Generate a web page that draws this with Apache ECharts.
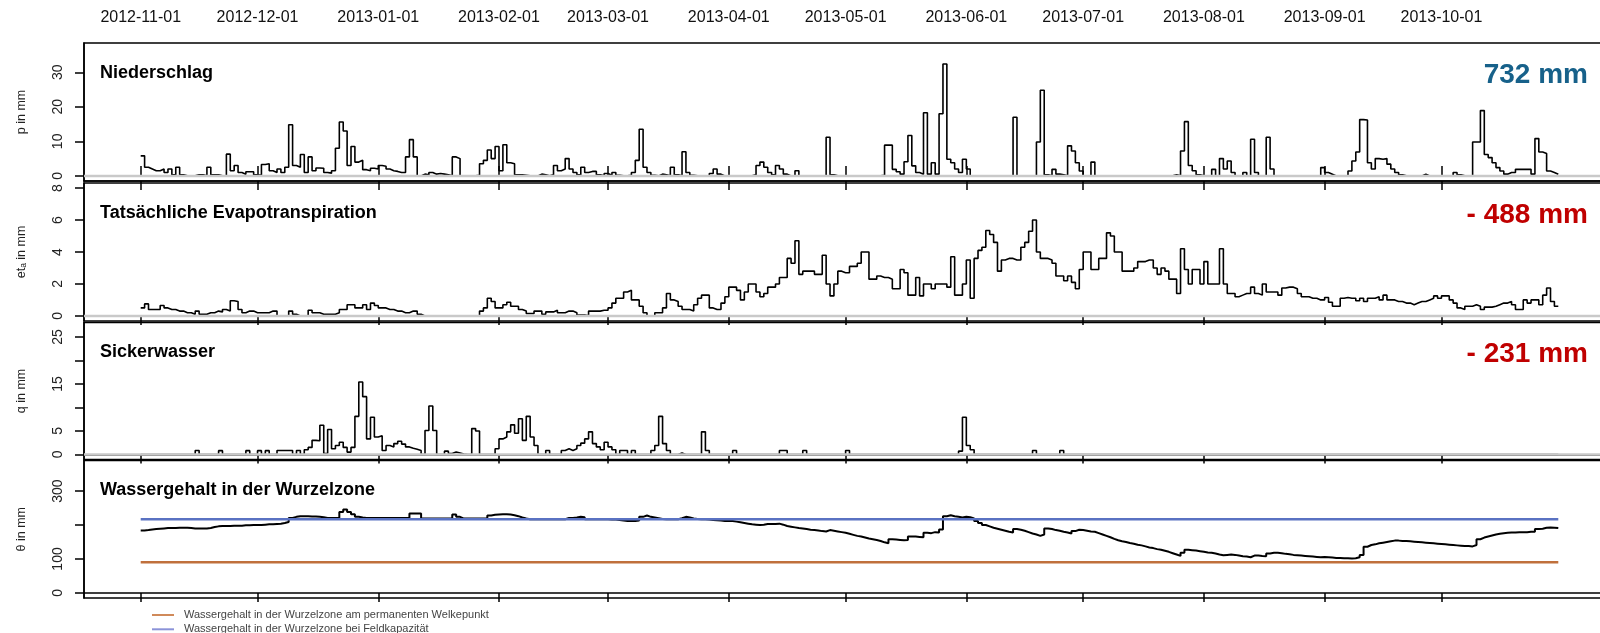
<!DOCTYPE html>
<html><head><meta charset="utf-8">
<script src="https://cdn.jsdelivr.net/npm/echarts@6/dist/echarts.min.js"></script>
<style>html,body{margin:0;padding:0;background:#fff}#c{width:1600px;height:633px}</style>
</head><body><div id="c"></div>
<script>
// ---- data (daily values 2012-11-01 .. 2013-10-31, one line per month) ----
const startDate = '2012-11-01';
const monthTicks = ['2012-11-01','2012-12-01','2013-01-01','2013-02-01','2013-03-01','2013-04-01',
  '2013-05-01','2013-06-01','2013-07-01','2013-08-01','2013-09-01','2013-10-01'];

const precip = [
 5.8,2.5,2.0,1.5,1.5,2.0,1.0,2.0,0.3,2.5, 0.3,0,0,0,0.3,0.3,0,2.5,0.3,0.3, 0,0,6.3,1.5,3.0,1.0,0.5,1.2,1.2,0.3,
 0.2,3.3,3.5,1.5,1.0,2.0,1.0,2.5,14.8,3.0, 2.5,6.2,1.0,5.5,1.5,2.3,2.2,1.0,0.8,1.5, 8.0,15.6,13.0,3.0,8.5,4.0,4.5,1.8,1.5,2.2, 2.0,
 3.0,2.8,2.0,1.5,1.3,1.0,1.0,5.5,10.5,5.5, 0,0.5,0.3,1.0,0.5,0.7,0.5,0.3,0,5.5, 5.0,0,0,0,0,0.2,3.5,4.5,7.5,5.0, 8.5,
 1.5,9.0,3.8,3.5,0.3,0.3,0.2,0,0,0, 0.5,0.3,0,0.3,3.0,1.5,2.0,5.0,2.0,1.0, 0.3,2.5,1.0,1.3,1.3,0.3,0,0.7,
 0.2,1.0,0.2,0,0,0.2,1.0,4.5,13.5,2.5, 1.0,0.2,0,0.5,0.3,0,2.5,0.3,0,7.0, 1.0,0.2,0,0,0,0,0.7,2.0,0.5,0, 0,
 0,0,0,0,0,0,0.3,3.0,4.0,2.5, 1.0,0.3,3.0,2.0,0.5,0,0,1.5,0,0, 0,0,0,0,0,11.2,0.3,0,0,0,
 0,0,0,0,0,0,0,0,0,0.2, 8.9,8.9,1.9,1.2,0.5,4.1,11.7,2.9,1.0,0.5, 18.3,0.5,3.8,0.5,18.0,32.4,4.8,3.8,2.0,1.0, 4.8,
 2.0,0,0,0,0,0,0,0,0,0, 0,0,17.0,0,0,0,0,0,9.8,24.8, 0.3,0,1.9,0.5,0.3,0,8.7,7.2,3.8,1.4,
 0,0,4.0,0,0,0,0,0,0,0, 0,0,0,0,0,0,0,0,0,0, 0,0,0,0.3,0,7.2,15.7,3.0,1.5,0.3, 0,
 0,0,1.9,0,5.0,2.0,4.3,1.0,0,0, 1.0,0,10.6,1.0,0,0,11.2,2.0,0,0, 0,0,0,0,0,0,0,0,0,0, 2.4,
 1.0,0.5,0,0,0,0,1.4,4.3,6.9,16.3, 16.2,3.8,2.0,5.0,4.8,5.0,3.4,2.0,1.0,0.3, 0,0,0,0,0,0.5,0,0,0,0,
 0,0,0,1.0,0.3,0,0,0,9.8,9.8, 18.9,6.2,5.3,3.8,2.4,1.4,0.5,1.0,1.0,1.9, 1.9,1.9,1.9,0.5,10.8,6.9,6.5,1.4,1.0,0.5, 0.5
];

const evapo = [
 0.5,0.75,0.4,0.4,0.4,0.65,0.5,0.4,0.4,0.3, 0.3,0.2,0.2,0.1,0.3,0.1,0.1,0.2,0.2,0.3, 0.25,0.4,0.3,0.95,0.9,0.4,0.2,0.3,0.3,0.2,
 0.2,0.2,0.2,0.3,0.3,0,0,0,0.3,0.1, 0,0,0,0.35,0.2,0.2,0.1,0.1,0.1,0.1, 0.2,0.4,0.4,0.7,0.7,0.5,0.5,0.7,0.4,0.8, 0.65,
 0.5,0.5,0.4,0.4,0.3,0.3,0.2,0.2,0.3,0.3, 0.1,0,0,0,0,0,0,0,0,0, 0,0,0,0,0,0,0.3,0.5,1.1,0.9, 0.5,
 0.5,0.7,0.85,0.6,0.6,0.4,0.3,0.15,0.15,0.3, 0.3,0.1,0.25,0.25,0.35,0.2,0.2,0.3,0.3,0.2, 0.05,0.05,0,0.3,0.3,0.3,0.35,0.35,
 0.5,0.8,1.1,1.1,1.5,1.6,1.0,1.0,0.6,0.2, 0,0,0.2,0.2,0.5,1.4,1.0,0.9,0.6,0.4, 0.4,0.3,0.7,1.1,1.3,1.3,0.5,0.4,0.4,0.8, 1.2,
 1.8,1.8,1.6,1.0,1.5,2.0,2.0,1.5,1.2,1.4, 1.8,1.8,2.0,2.4,2.4,3.6,3.3,4.7,2.6,2.8, 2.8,2.8,2.6,2.6,3.8,2.0,1.25,2.0,2.8,2.7,
 2.7,3.1,3.1,3.3,4.0,4.0,2.3,2.3,2.5,2.4, 2.4,2.3,1.7,1.7,2.9,2.7,1.3,1.3,2.4,1.25, 2.0,2.0,1.7,2.0,2.0,2.0,1.8,3.7,1.3,1.3, 2.0,
 3.5,1.1,3.6,4.1,4.3,5.35,5.1,4.6,2.8,3.5, 3.6,3.6,3.5,3.5,4.3,4.6,5.3,6.0,4.0,3.6, 3.6,3.5,3.3,2.5,2.5,2.2,2.5,2.1,1.7,2.9,
 4.0,4.0,2.9,2.9,3.6,3.6,5.2,5.0,4.0,4.0, 2.8,2.8,2.8,3.0,3.4,3.4,3.5,3.5,3.0,2.6, 3.0,2.8,2.3,2.3,1.4,4.2,2.9,2.0,2.9,2.9, 2.0,
 3.4,2.0,2.0,2.0,4.2,2.0,1.4,1.4,1.2,1.3, 1.4,1.4,1.8,1.4,1.3,2.0,1.5,1.5,1.5,1.3, 1.75,1.8,1.8,1.7,1.4,1.2,1.2,1.1,1.1,1.0, 1.0,
 1.15,0.85,0.6,0.6,1.1,1.15,1.1,1.1,0.95,1.1, 0.9,1.1,1.1,1.2,1.0,1.3,1.0,1.0,0.9,0.9, 0.8,0.8,0.7,0.8,0.9,0.9,1.0,1.1,1.25,1.1,
 1.25,1.25,1.0,0.8,0.5,0.4,0.6,0.6,0.7,0.6, 0.4,0.55,0.55,0.6,0.7,0.8,0.8,0.9,0.7,0.4, 0.4,1.0,0.8,1.0,1.0,0.7,1.3,1.75,0.9,0.6, 0.6
];

const seepage = [
 0,0,0,0,0,0,0,0,0,0, 0,0,0,0,0.85,0,0,0,0,0, 0.8,0,0,0,0,0,0,0.8,0,0,
 0.8,0,0.8,0,0,0.85,0.85,0.85,0.85,0, 0.85,0,1.0,1.5,3.0,2.9,6.2,0.2,5.3,1.2, 1.9,2.6,1.5,0.5,1.5,8.1,15.4,12.3,3.3,7.9, 3.7,
 4.0,0.85,1.9,1.6,2.3,2.8,2.2,1.6,1.3,1.1, 0.85,0,5.1,10.3,5.1,0,0,0.7,0.2,0.5, 0.3,0.1,0,0,5.5,5.0,0,0,0,0, 1.2,
 3.3,3.7,4.8,6.3,4.5,7.6,3.0,8.1,3.7,1.9, 0,0,0.85,0,0,0,0.85,1.2,0.85,1.2, 1.9,2.4,3.3,4.8,2.3,1.6,1.0,2.6,
 1.6,1.0,0,0.85,0.85,0,0.85,0,0,0, 0,0.85,1.9,8.1,2.3,0.85,0,0,0.3,0, 0,0,0,0,4.8,0.85,0,0,0,0, 0,
 0,0.85,0,0,0,0,0,0,0,0, 0,0,0,0.85,0.85,0,0,0,0,0.85, 0,0,0,0,0,0,0,0,0,0,
 0.85,0,0,0,0,0,0,0,0,0, 0,0,0,0,0,0,0,0,0,0, 0,0,0,0,0,0,0,0,0,0.7, 7.9,
 1.9,1.0,0,0,0,0,0,0,0,0, 0,0,0,0,0,0,0,0.85,0,0, 0,0,0,0,0.85,0,0,0,0,0,
 0,0,0,0,0,0,0,0,0,0, 0,0,0,0,0,0,0,0,0,0, 0,0,0,0,0,0,0,0,0,0, 0,
 0,0,0,0,0,0,0,0,0,0, 0,0,0,0,0,0,0,0,0,0, 0,0,0,0,0,0,0,0,0,0, 0,
 0,0,0,0,0,0,0,0,0,0, 0,0,0,0,0,0,0,0,0,0, 0,0,0,0,0,0,0,0,0,0,
 0,0,0,0,0,0,0,0,0,0, 0,0,0,0,0,0,0,0,0,0, 0,0,0,0,0,0,0,0,0,0, 0
];

const theta = [
 184,185,187,188,189,190,191,191,191,192, 192,192,191,190,190,190,190,191,194,196, 197,197,197,198,198,198,199,199,200,200,
 200,201,202,202,203,204,206,209,221,224, 226,226,226,225,225,224,223,221,221,221, 221,238,246,238,232,224,222,221,221,221, 221,
 221,221,221,221,221,221,221,221,234,234, 234,219,219,219,219,219,219,219,219,231, 224,219,219,219,219,219,219,219,228,230, 231,
 232,232,231,229,226,222,219,217,217,217, 217,217,217,217,217,217,217,221,221,222, 224,223,217,217,217,217,217,217,
 216,216,215,213,212,212,212,213,224,228, 224,222,220,218,217,217,217,217,220,224, 222,219,218,217,217,216,215,214,213,212, 212,
 212,210,208,206,204,202,201,200,201,203, 203,203,204,201,197,195,193,191,190,188, 186,185,184,182,181,185,183,181,179,177,
 174,171,168,166,163,160,158,156,153,149, 146,158,157,156,155,156,166,166,165,164, 177,176,179,178,187,226,229,226,224,222, 224,
 223,219,212,206,200,196,192,189,186,183, 180,178,188,186,183,179,175,172,168,172, 190,188,185,183,180,178,175,182,186,185,
 183,181,180,176,172,168,164,159,155,152, 150,147,145,142,140,137,134,132,129,127, 124,121,117,113,109,118,127,126,125,123, 121,
 119,118,116,113,111,112,113,112,110,108, 107,105,110,110,109,108,116,118,118,117, 115,114,112,111,110,109,108,107,106,105, 106,
 105,104,103,103,102,102,101,102,105,112, 136,141,143,146,148,150,152,154,154,153, 153,152,151,150,149,148,147,146,145,144,
 143,142,141,140,139,138,138,137,141,158, 163,166,169,172,174,176,177,178,178,179, 179,179,180,180,188,189,192,193,192,191, 190
];

const fieldCapacity = 217;
const wiltingPoint = 90;
const panelTitles = ['Niederschlag', 'Tatsächliche Evapotranspiration', 'Sickerwasser', 'Wassergehalt in der Wurzelzone'];
const totals = ['732 mm', '- 488 mm', '- 231 mm'];
const yNames = ['p in mm', 'etₐ in mm', 'q in mm', 'θ in mm'];
const yTicks = [[0,10,20,30],[0,2,4,6,8],[0,5,10,15,20,25],[0,100,200,300]];
const yLabels = [[0,10,20,30],[0,2,4,6,8],[0,5,15,25],[0,100,300]];
const yRanges = [[-1.48,38.48],[-0.32,8.32],[-1.08,28.08],[-15,390]];
const legendNames = ['Wassergehalt in der Wurzelzone am permanenten Welkepunkt', 'Wassergehalt in der Wurzelzone bei Feldkapazität'];

// ---- chart ----
const FONT = '"Liberation Sans", Arial, Helvetica, sans-serif';
const DAY = 86400000;
const T0 = Date.parse(startDate + 'T00:00:00Z');
const xMin = T0 - 14.56 * DAY, xMax = T0 + 378.56 * DAY;
const tickVals = monthTicks.map(s => Date.parse(s + 'T00:00:00Z'));
const toPairs = arr => arr.map((v, i) => [T0 + i * DAY, v]);
const pad = n => (n < 10 ? '0' : '') + n;
const fmtDate = v => { const d = new Date(v); return d.getUTCFullYear() + '-' + pad(d.getUTCMonth() + 1) + '-' + pad(d.getUTCDate()); };

const grids = [
  {left: 84, width: 1531, top: 43, height: 138},
  {left: 84, width: 1531, top: 183, height: 138},
  {left: 84, width: 1531, top: 322.5, height: 137},
  {left: 84, width: 1531, top: 460.5, height: 137.5}
].map(g => Object.assign(g, {show: true, borderColor: '#000', borderWidth: 1.5, backgroundColor: 'transparent',
  containLabel: false, outerBoundsMode: 'none'}));

const axLine = {show: true, lineStyle: {color: '#000', width: 1.5}};
const xAxes = [{
  type: 'value', gridIndex: 0, position: 'top', min: xMin, max: xMax,
  axisLine: axLine,
  axisTick: {show: true, length: 10, customValues: tickVals, lineStyle: {color: '#000', width: 1.5}},
  axisLabel: {show: true, customValues: tickVals, formatter: fmtDate, fontSize: 16, color: '#111', fontFamily: FONT, margin: 17},
  splitLine: {show: false}
}];
for (let g = 0; g < 4; g++) {
  xAxes.push({
    type: 'value', gridIndex: g, position: 'bottom', min: xMin, max: xMax,
    axisLine: axLine,
    axisTick: {show: true, length: 9, customValues: tickVals, lineStyle: {color: '#000', width: 1.5}},
    axisLabel: {show: false}, splitLine: {show: false}
  });
}
const yAxes = [0,1,2,3].map(g => ({
  type: 'value', gridIndex: g, position: 'left', min: yRanges[g][0], max: yRanges[g][1],
  axisLine: axLine,
  axisTick: {show: true, length: 9, customValues: yTicks[g], lineStyle: {color: '#000', width: 1.5}},
  axisLabel: {customValues: yLabels[g], rotate: 90, margin: 19, fontSize: 14, color: '#222', fontFamily: FONT},
  splitLine: {show: false},
  name: yNames[g], nameLocation: 'middle', nameRotate: 90, nameGap: 56,
  nameTextStyle: {fontSize: 12.5, color: '#222', fontFamily: FONT}
}));

const stepSeries = (data, xi, yi) => ({
  type: 'line', xAxisIndex: xi, yAxisIndex: yi, data: toPairs(data), step: 'end',
  symbol: 'none', lineStyle: {color: '#000', width: 1.6}, z: 2, silent: true
});
const zeroLine = (xi, yi) => ({
  type: 'line', xAxisIndex: xi, yAxisIndex: yi, data: [[xMin, 0], [xMax, 0]],
  symbol: 'none', lineStyle: {color: '#c9c9c9', width: 2.5}, z: 3, silent: true
});
const lastT = T0 + (theta.length - 1) * DAY;

const series = [
  stepSeries(precip, 0, 0), zeroLine(0, 0),
  stepSeries(evapo, 2, 1), zeroLine(2, 1),
  stepSeries(seepage, 3, 2), zeroLine(3, 2),
  Object.assign(stepSeries(theta, 4, 3), {lineStyle: {color: '#000', width: 2}}),
  {name: legendNames[0], type: 'line', xAxisIndex: 4, yAxisIndex: 3, data: [[T0, wiltingPoint], [lastT, wiltingPoint]],
   symbol: 'none', lineStyle: {color: '#c0703c', width: 2.5}, itemStyle: {color: '#d08a5a'}, z: 4, silent: true},
  {name: legendNames[1], type: 'line', xAxisIndex: 4, yAxisIndex: 3, data: [[T0, fieldCapacity], [lastT, fieldCapacity]],
   symbol: 'none', lineStyle: {color: '#5a72c2', width: 2.5}, itemStyle: {color: '#8b93d8'}, z: 4, silent: true}
];

const titleY = grids.map(g => g.top + 30);
const graphics = panelTitles.map((t, i) => ({
  type: 'text', x: 100, y: titleY[i],
  style: {text: t, fontSize: 18, fontWeight: 'bold', fontFamily: FONT, fill: '#000', align: 'left', verticalAlign: 'middle'}
})).concat(totals.map((t, i) => ({
  type: 'text', x: 1588, y: titleY[i] + 2,
  style: {text: t, fontSize: 28, fontWeight: 'bold', fontFamily: FONT, fill: i === 0 ? '#17618a' : '#c00000', align: 'right', verticalAlign: 'middle'}
})));

const chart = echarts.init(document.getElementById('c'), null, {renderer: 'canvas'});
chart.setOption({
  animation: false,
  backgroundColor: '#fff',
  grid: grids,
  xAxis: xAxes,
  yAxis: yAxes,
  series: series,
  graphic: graphics,
  legend: {
    data: legendNames, orient: 'vertical', left: 152, top: 609, height: 40, padding: 0, icon: 'rect',
    itemWidth: 22, itemHeight: 2, itemGap: 2.3, selectedMode: false,
    textStyle: {fontSize: 11, lineHeight: 12, color: '#444', fontFamily: FONT, padding: [0, 0, 0, 5]}
  }
});
</script></body></html>
